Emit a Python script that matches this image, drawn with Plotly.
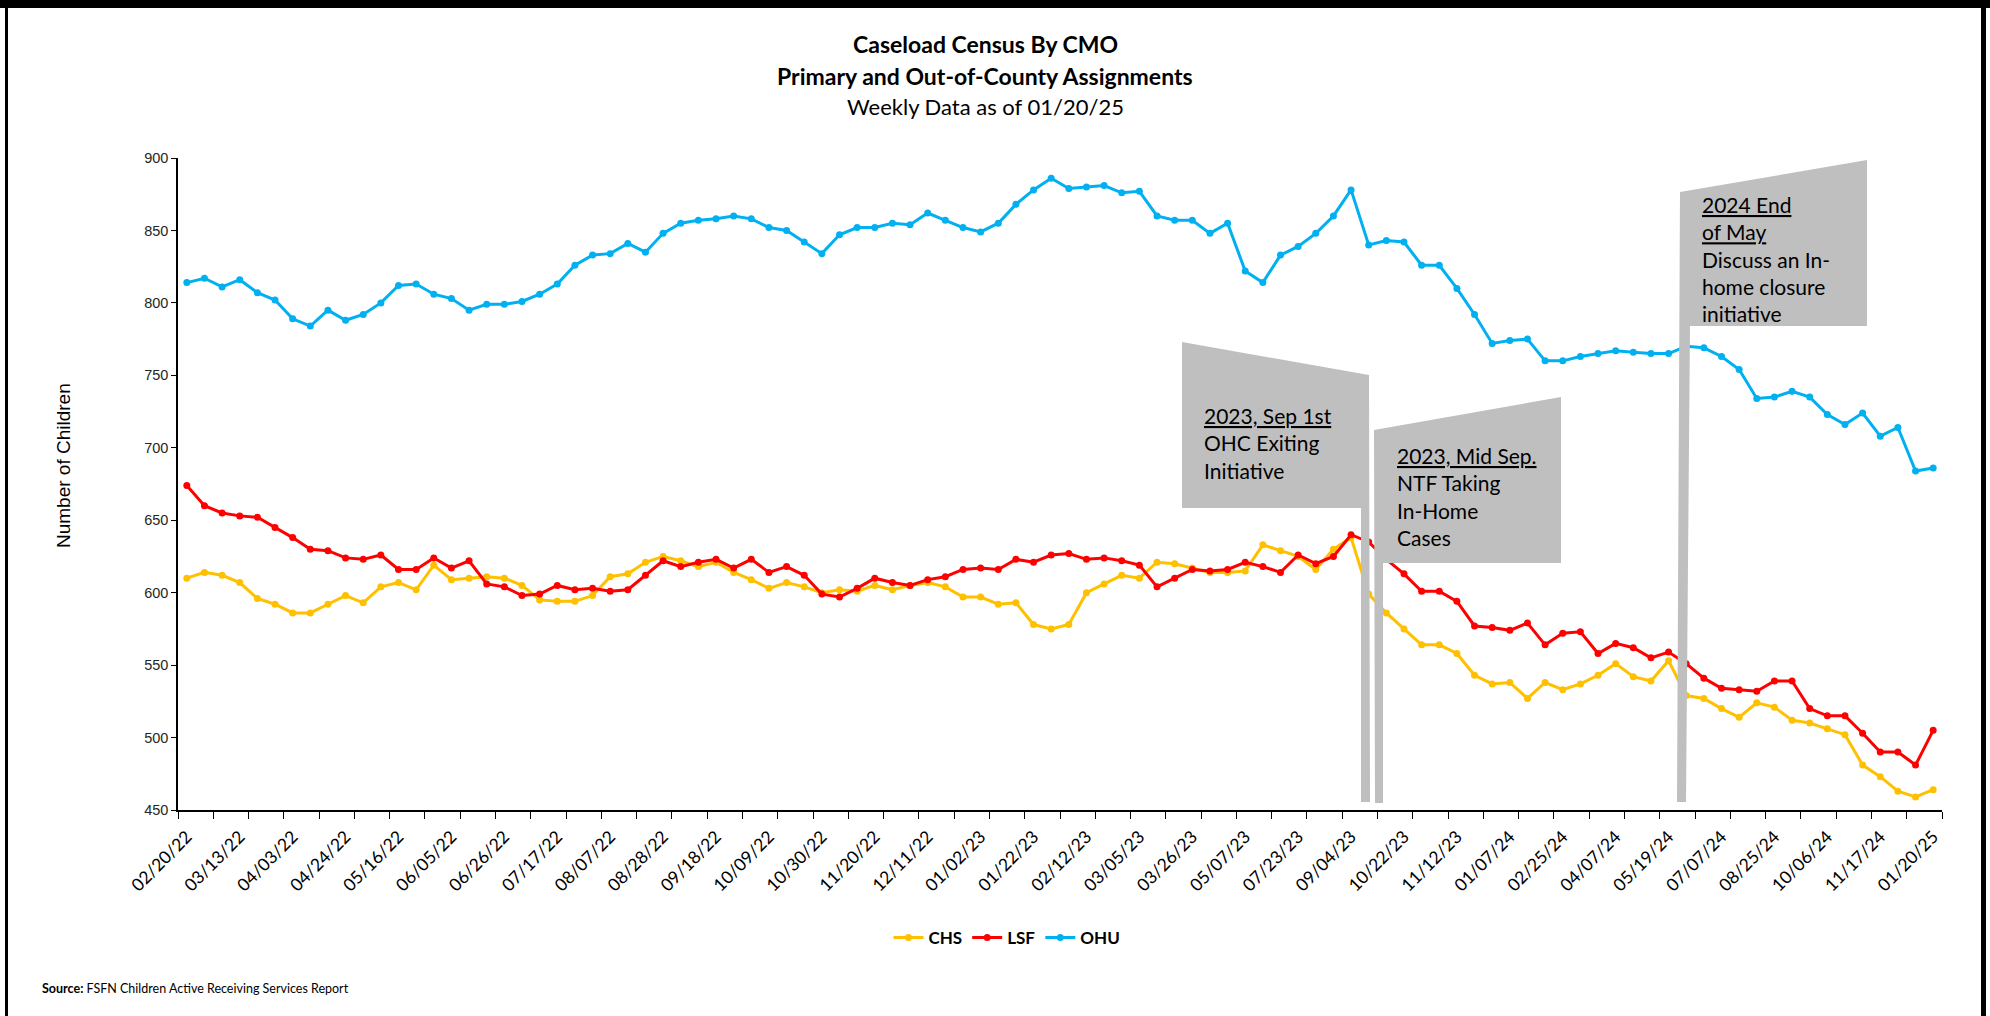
import plotly.graph_objects as go

# ---------------- data ----------------
tick_labels = ["02/20/22", "03/13/22", "04/03/22", "04/24/22", "05/16/22", "06/05/22",
               "06/26/22", "07/17/22", "08/07/22", "08/28/22", "09/18/22", "10/09/22",
               "10/30/22", "11/20/22", "12/11/22", "01/02/23", "01/22/23", "02/12/23",
               "03/05/23", "03/26/23", "05/07/23", "07/23/23", "09/04/23", "10/22/23",
               "11/12/23", "01/07/24", "02/25/24", "04/07/24", "05/19/24", "07/07/24",
               "08/25/24", "10/06/24", "11/17/24", "01/20/25"]

chs = [610, 614, 612, 607, 596, 592, 586, 586, 592, 598,
       593, 604, 607, 602, 619, 609, 610, 611, 610, 605,
       595, 594, 594, 598, 611, 613, 621, 625, 622, 618,
       621, 614, 609, 603, 607, 604, 600, 602, 601, 605,
       602, 605, 607, 604, 597, 597, 592, 593, 578, 575,
       578, 600, 606, 612, 610, 621, 620, 617, 614, 614,
       615, 633, 629, 625, 616, 630, 638, 599, 586, 575,
       564, 564, 558, 543, 537, 538, 527, 538, 533, 537,
       543, 551, 542, 539, 553, 529, 527, 520, 514, 524,
       521, 512, 510, 506, 502, 481, 473, 463, 459, 464]

lsf = [674, 660, 655, 653, 652, 645, 638, 630, 629, 624,
       623, 626, 616, 616, 624, 617, 622, 606, 604, 598,
       599, 605, 602, 603, 601, 602, 612, 622, 618, 621,
       623, 617, 623, 614, 618, 612, 599, 597, 603, 610,
       607, 605, 609, 611, 616, 617, 616, 623, 621, 626,
       627, 623, 624, 622, 619, 604, 610, 616, 615, 616,
       621, 618, 614, 626, 620, 625, 640, 635, 623, 613,
       601, 601, 594, 577, 576, 574, 579, 564, 572, 573,
       558, 565, 562, 555, 559, 551, 541, 534, 533, 532,
       539, 539, 520, 515, 515, 503, 490, 490, 481, 505]

ohu = [814, 817, 811, 816, 807, 802, 789, 784, 795, 788,
       792, 800, 812, 813, 806, 803, 795, 799, 799, 801,
       806, 813, 826, 833, 834, 841, 835, 848, 855, 857,
       858, 860, 858, 852, 850, 842, 834, 847, 852, 852,
       855, 854, 862, 857, 852, 849, 855, 868, 878, 886,
       879, 880, 881, 876, 877, 860, 857, 857, 848, 855,
       822, 814, 833, 839, 848, 860, 878, 840, 843, 842,
       826, 826, 810, 792, 772, 774, 775, 760, 760, 763,
       765, 767, 766, 765, 765, 770, 769, 763, 754, 734,
       735, 739, 735, 723, 716, 724, 708, 714, 684, 686]

series_names = ["CHS", "LSF", "OHU"]
series_colors = ["#FFC000", "#FF0000", "#00B0F0"]

# ---------------- layout geometry (pixels) ----------------
W, H = 1990, 1016
ML, MR, MT, MB = 178, 48, 158, 206
PW = W - ML - MR
PH = H - MT - MB


def px(x):
    return (x - ML) / PW


def py(y):
    return (H - MB - y) / PH


def poly(points):
    s = "M " + " L ".join(f"{px(a):.5f},{py(b):.5f}" for a, b in points) + " Z"
    return s


n = len(chs)
xs = list(range(n))
tickvals = list(range(0, n, 3))

fig = go.Figure()
for name, vals, col in zip(series_names, [chs, lsf, ohu], series_colors):
    fig.add_trace(go.Scatter(
        x=xs, y=vals, name=name, mode="lines+markers",
        line=dict(color=col, width=3),
        marker=dict(color=col, size=7, symbol="circle"),
    ))

shapes = []
gray = "#BFBFBF"
box1 = [(1182, 342), (1369, 375), (1370, 802), (1361, 802), (1361, 508), (1182, 508)]
box2 = [(1374, 430), (1561, 397), (1561, 563), (1383, 563), (1383, 803), (1375, 803)]
box3 = [(1680, 192), (1867, 160), (1867, 326), (1690, 326), (1686, 802), (1677, 802)]
for b in (box1, box2, box3):
    shapes.append(dict(type="path", xref="paper", yref="paper", path=poly(b),
                       fillcolor=gray, line=dict(width=0), layer="above"))

# outer frame of the picture
for (x0, y0, x1, y1) in [(0, 0, 1990, 8), (5, 0, 8, 1016), (1981, 0, 1986, 1016)]:
    shapes.append(dict(type="rect", xref="paper", yref="paper",
                       x0=px(x0), x1=px(x1), y0=py(y1), y1=py(y0),
                       fillcolor="black", line=dict(width=0), layer="above"))

ann = []
title_font = "Lato"
ann.append(dict(text="<b>Caseload Census By CMO</b>", x=px(985), y=py(44), xref="paper", yref="paper",
                showarrow=False, font=dict(family=title_font, size=23, color="black"),
                xanchor="center", yanchor="middle"))
ann.append(dict(text="<b>Primary and Out-of-County Assignments</b>", x=px(985), y=py(76), xref="paper",
                yref="paper", showarrow=False, font=dict(family=title_font, size=23, color="black"),
                xanchor="center", yanchor="middle"))
ann.append(dict(text="Weekly Data as of 01/20/25", x=px(985), y=py(107), xref="paper", yref="paper",
                showarrow=False, font=dict(family=title_font, size=22, color="black"),
                xanchor="center", yanchor="middle"))
ann.append(dict(text="Number of Children", x=px(63), y=py(466), xref="paper", yref="paper",
                showarrow=False, textangle=-90, font=dict(family="Liberation Sans", size=19, color="black"),
                xanchor="center", yanchor="middle"))
ann.append(dict(text="<b>Source:</b> FSFN Children Active Receiving Services Report", x=px(40), y=py(988),
                xref="paper", yref="paper", showarrow=False,
                font=dict(family="Lato", size=12.5, color="black"), xanchor="left", yanchor="middle"))

box_font = dict(family="Lato", size=21, color="black")
ann.append(dict(text="<u>2023, Sep 1st</u><br>OHC Exiting<br>Initiative", x=px(1202), y=py(401),
                xref="paper", yref="paper", showarrow=False, align="left", font=box_font,
                xanchor="left", yanchor="top"))
ann.append(dict(text="<u>2023, Mid Sep.</u><br>NTF Taking<br>In-Home<br>Cases", x=px(1395), y=py(441),
                xref="paper", yref="paper", showarrow=False, align="left", font=box_font,
                xanchor="left", yanchor="top"))
ann.append(dict(text="<u>2024 End</u><br><u>of May</u><br>Discuss an In-<br>home closure<br>initiative",
                x=px(1700), y=py(190), xref="paper", yref="paper", showarrow=False, align="left",
                font=box_font, xanchor="left", yanchor="top"))

fig.update_layout(
    width=W, height=H,
    margin=dict(l=ML, r=MR, t=MT, b=MB, pad=0),
    paper_bgcolor="white", plot_bgcolor="white",
    showlegend=True,
    legend=dict(orientation="h", x=px(1007), y=py(938), xanchor="center", yanchor="middle",
                font=dict(family="Lato", size=17, color="black", weight="bold"),
                itemwidth=30, tracegroupgap=0, bgcolor="rgba(0,0,0,0)"),
    shapes=shapes,
    annotations=ann,
    xaxis=dict(
        range=[-0.5, n - 0.5], tickmode="array", tickvals=tickvals, ticktext=tick_labels,
        tickangle=-45, ticks="", showgrid=False, zeroline=False,
        showline=True, linecolor="black", linewidth=1.5,
        tickfont=dict(family="Lato", size=17.5, color="black"),
        ticklabelstandoff=8,
        minor=dict(tickmode="linear", tick0=-0.5, dtick=2, ticks="outside", ticklen=7,
                   tickcolor="black", tickwidth=1.2, showgrid=False),
    ),
    yaxis=dict(
        range=[450, 900], tickmode="linear", tick0=450, dtick=50,
        ticks="outside", ticklen=5, tickcolor="black", tickwidth=1.2,
        showgrid=False, zeroline=False, showline=True, linecolor="black", linewidth=1.5,
        tickfont=dict(family="Liberation Sans", size=14.5, color="#262626"),
    ),
)

fig.write_html("out.html", config={"displayModeBar": False},
               post_script="document.body.style.margin='0';document.body.style.overflow='hidden';")
